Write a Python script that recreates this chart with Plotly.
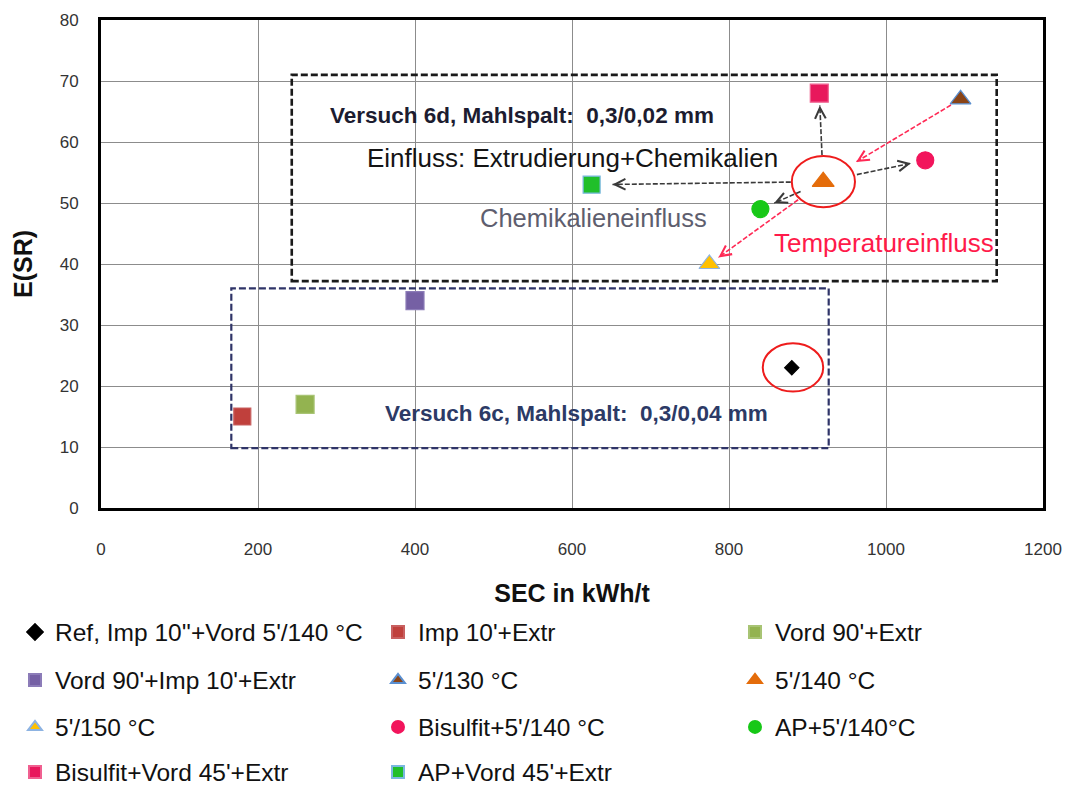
import math
import plotly.graph_objects as go

# ---- data: SEC (kWh/t) vs. E(SR) for each treatment ----
names = [
    "Ref, Imp 10''+Vord 5'/140 °C",
    "Imp 10'+Extr",
    "Vord 90'+Extr",
    "Vord 90'+Imp 10'+Extr",
    "5'/130 °C",
    "5'/140 °C",
    "5'/150 °C",
    "Bisulfit+5'/140 °C",
    "AP+5'/140°C",
    "Bisulfit+Vord 45'+Extr",
    "AP+Vord 45'+Extr",
]
sec = [880, 180, 260, 400, 1095, 920, 775, 1050, 840, 915, 625]
esr = [23, 15, 17, 34, 67, 53.5, 40, 57, 49, 68, 53]

x_ticks = [0, 200, 400, 600, 800, 1000, 1200]
y_ticks = [0, 10, 20, 30, 40, 50, 60, 70, 80]

# ---- styling per series ----
symbols = ["diamond", "square", "square", "square", "triangle-up", "triangle-up",
           "triangle-up", "circle", "circle", "square", "square"]
fills = ["#000000", "#c0403c", "#93b350", "#7560a4", "#8a4416", "#e46c0a",
         "#ffc000", "#f2155c", "#17c817", "#e8185c", "#20bf2a"]
edges = ["#000000", "#c86060", "#a8c474", "#8c7cb8", "#5a8fd0", "#e46c0a",
         "#8db3e2", "#f2155c", "#17c817", "#f06090", "#7ab8e0"]
sizes = [11, 17, 18, 18, 18, 19, 18, 17, 17, 18, 17]

W, H = 1072, 788
ML, MR, MT, MB = 101, 29, 20, 280
PLOT_W = W - ML - MR
PLOT_H = H - MT - MB
PXX = PLOT_W / (x_ticks[-1] - x_ticks[0])   # px per kWh/t
PXY = PLOT_H / (y_ticks[-1] - y_ticks[0])   # px per E(SR) unit

FONT = "Liberation Sans, Arial, sans-serif"

# legend grid below the chart: 3 columns, 4 rows (pixel positions on the page)
legend_cols_px = [15, 378, 735]
legend_rows_px = [632, 680, 727, 772]

fig = go.Figure()
legend_cfg = {}
for i, n in enumerate(names):
    key = "legend" if i == 0 else f"legend{i + 1}"
    fig.add_trace(go.Scatter(
        x=[sec[i]], y=[esr[i]], mode="markers", name=n, legend=key,
        marker=dict(symbol=symbols[i], size=sizes[i], color=fills[i],
                    line=dict(color=edges[i], width=1.2)),
    ))
    col, row = i % 3, i // 3
    legend_cfg[key] = dict(
        orientation="h",
        xref="container", yref="container",
        x=legend_cols_px[col] / W, xanchor="left",
        y=1 - legend_rows_px[row] / H, yanchor="middle",
        itemsizing="constant", itemclick=False, itemdoubleclick=False,
        font=dict(family=FONT, size=24.5, color="#111111"),
        bgcolor="rgba(0,0,0,0)",
    )

idx = {n: i for i, n in enumerate(names)}


def pt(name):
    i = idx[name]
    return sec[i], esr[i]


# ---- dashed influence arrows (start/end as fractions along source->target) ----
arrows = [
    ("5'/140 °C", "Bisulfit+Vord 45'+Extr", 0.30, 0.86, "#3a3a3a"),
    ("5'/140 °C", "AP+Vord 45'+Extr", 0.14, 0.91, "#3a3a3a"),
    ("5'/140 °C", "Bisulfit+5'/140 °C", 0.33, 0.86, "#3a3a3a"),
    ("5'/140 °C", "AP+5'/140°C", 0.36, 0.78, "#3a3a3a"),
    ("5'/130 °C", "5'/140 °C", 0.07, 0.76, "#ff2a55"),
    ("5'/140 °C", "5'/150 °C", 0.22, 0.92, "#ff2a55"),
]

shapes = []
annotations = []
for src, tgt, t0, t1, col in arrows:
    x0, y0 = pt(src)
    x1, y1 = pt(tgt)
    sx, sy = x0 + t0 * (x1 - x0), y0 + t0 * (y1 - y0)
    ex, ey = x0 + t1 * (x1 - x0), y0 + t1 * (y1 - y0)
    shapes.append(dict(type="line", xref="x", yref="y", x0=sx, y0=sy, x1=ex, y1=ey,
                       line=dict(color=col, width=1.6, dash="5px,2px")))
    dxp = (ex - sx) * PXX
    dyp = -(ey - sy) * PXY
    L = math.hypot(dxp, dyp)
    annotations.append(dict(
        x=ex, y=ey, xref="x", yref="y", text="", showarrow=True,
        ax=-dxp / L * 7, ay=-dyp / L * 7,
        arrowhead=5, arrowsize=1.4, arrowwidth=1.5, arrowcolor=col,
    ))

# ---- experiment boxes ----
shapes.append(dict(type="rect", xref="x", yref="y", x0=243, x1=1141, y0=37.2, y1=71,
                   line=dict(color="#1a1a1a", width=2.6, dash="7px,3px"), layer="between"))
shapes.append(dict(type="rect", xref="x", yref="y", x0=166, x1=927, y0=9.8, y1=36,
                   line=dict(color="#2f3468", width=2.2, dash="7px,3px"), layer="between"))

# ---- highlight circles ----
shapes.append(dict(type="circle", xref="x", yref="y", x0=880, x1=960.5, y0=49.3, y1=57.7,
                   line=dict(color="#ee1c1c", width=2)))
shapes.append(dict(type="circle", xref="x", yref="y", x0=843, x1=920, y0=19.1, y1=27,
                   line=dict(color="#ee1c1c", width=2)))

# ---- text labels ----
labels = [
    ("<b>Versuch 6d, Mahlspalt:  0,3/0,02 mm</b>", 536, 64.3, 22.5, "#1c1c30"),
    ("Einfluss: Extrudierung+Chemikalien", 601, 57.4, 26, "#141414"),
    ("Chemikalieneinfluss", 628, 47.6, 25.5, "#5e5e6e"),
    ("Temperatureinfluss", 997, 43.5, 26, "#ff1a4a"),
    ("<b>Versuch 6c, Mahlspalt:  0,3/0,04 mm</b>", 606, 15.5, 22.5, "#2c3a66"),
]
for txt, x, y, s, c in labels:
    annotations.append(dict(x=x, y=y, xref="x", yref="y", text=txt, showarrow=False,
                            font=dict(family=FONT, size=s, color=c),
                            xanchor="center", yanchor="middle"))

fig.update_layout(
    width=W, height=H,
    margin=dict(l=ML, r=MR, t=MT, b=MB, autoexpand=False),
    paper_bgcolor="white", plot_bgcolor="white",
    showlegend=True,
    shapes=shapes, annotations=annotations,
    xaxis=dict(
        range=[x_ticks[0], x_ticks[-1]], tickvals=x_ticks, showgrid=True,
        gridcolor="#8c8c8c", gridwidth=1, zeroline=False, automargin=False,
        showline=True, linecolor="black", linewidth=3, mirror=True,
        ticks="", ticklabelstandoff=24,
        tickfont=dict(family=FONT, size=17, color="#333333"),
        title=dict(text="<b>SEC in kWh/t</b>", standoff=27,
                   font=dict(family=FONT, size=25, color="#111111")),
    ),
    yaxis=dict(
        range=[y_ticks[0], y_ticks[-1]], tickvals=y_ticks, showgrid=True,
        gridcolor="#8c8c8c", gridwidth=1, zeroline=False, automargin=False,
        showline=True, linecolor="black", linewidth=3, mirror=True,
        ticks="", ticklabelstandoff=16,
        tickfont=dict(family=FONT, size=17, color="#333333"),
        title=dict(text="<b>E(SR)</b>", standoff=20,
                   font=dict(family=FONT, size=25, color="#111111")),
    ),
    **legend_cfg,
)

fig.write_html("out.html")
